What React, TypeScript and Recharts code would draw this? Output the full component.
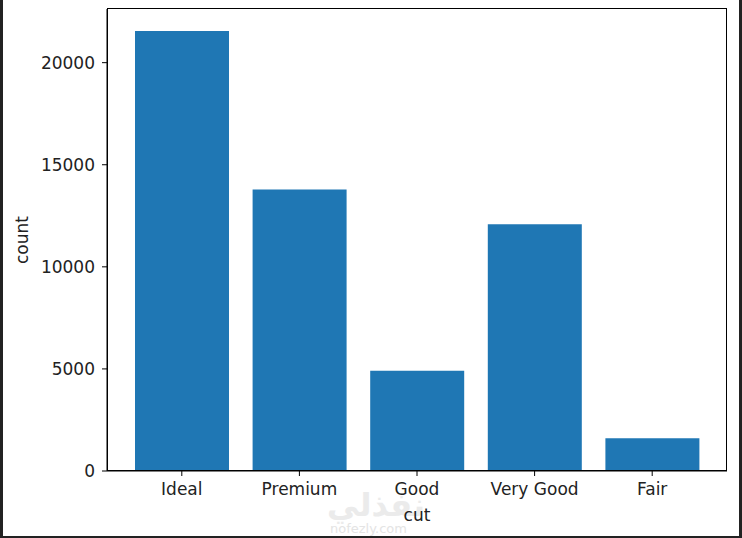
import React from "react"
import { BarChart, Bar, XAxis, YAxis } from "recharts"

const cuts = ["Ideal", "Premium", "Good", "Very Good", "Fair"]
const counts = [21551, 13791, 4906, 12082, 1610]
const yTicks = [0, 5000, 10000, 15000, 20000]

const data = cuts.map((cut, i) => ({ cut, count: counts[i] }))

const font = "'DejaVu Sans', sans-serif"
const tickStyle = { fontSize: 17, fill: "#222", fontFamily: font }

export default function App() {
  return (
    <div
      style={{
        position: "fixed",
        left: 0,
        top: 0,
        width: 742,
        height: 538,
        background: "#fff",
        boxSizing: "border-box",
        borderLeft: "3px solid #222",
        borderRight: "3px solid #222",
        borderBottom: "2px solid #222",
        overflow: "hidden",
      }}
    >
      <div
        style={{
          position: "absolute",
          left: 324,
          top: 486,
          fontFamily: font,
          fontSize: 32,
          fontWeight: "bold",
          color: "#ebebeb",
          direction: "rtl",
        }}
      >
        نفذلي
      </div>
      <div
        style={{
          position: "absolute",
          left: 327,
          top: 521,
          fontFamily: font,
          fontSize: 13,
          color: "#e4e4e4",
        }}
      >
        nofezly.com
      </div>
      <div style={{ position: "absolute", left: -3, top: 0 }}>
        <BarChart
          width={742}
          height={538}
          data={data}
          margin={{ top: 9, right: 15, bottom: 37, left: 47 }}
        >
          <XAxis
            dataKey="cut"
            padding={{ left: 16, right: 16 }}
            tick={tickStyle}
            tickSize={5}
            tickMargin={7}
            axisLine={{ stroke: "#000" }}
            tickLine={{ stroke: "#000" }}
            height={30}
            label={{
              value: "cut",
              position: "insideBottom",
              offset: -20,
              style: { fontSize: 17, fill: "#222", fontFamily: font },
            }}
          />
          <YAxis
            domain={[0, 22628]}
            ticks={yTicks}
            allowDataOverflow
            width={60}
            tick={tickStyle}
            tickSize={5}
            tickMargin={7}
            axisLine={{ stroke: "#000" }}
            tickLine={{ stroke: "#000" }}
            label={{
              value: "count",
              angle: -90,
              position: "insideLeft",
              offset: -25,
              style: { fontSize: 17, fill: "#222", fontFamily: font, textAnchor: "middle" },
            }}
          />
          <Bar
            dataKey="count"
            fill="#1f77b4"
            barSize={94}
            isAnimationActive={false}
          />
        </BarChart>
      </div>
      <div
        style={{
          position: "absolute",
          left: 104,
          top: 8,
          width: 620,
          height: 463,
          boxSizing: "border-box",
          border: "1px solid #000",
          pointerEvents: "none",
        }}
      />
    </div>
  )
}
